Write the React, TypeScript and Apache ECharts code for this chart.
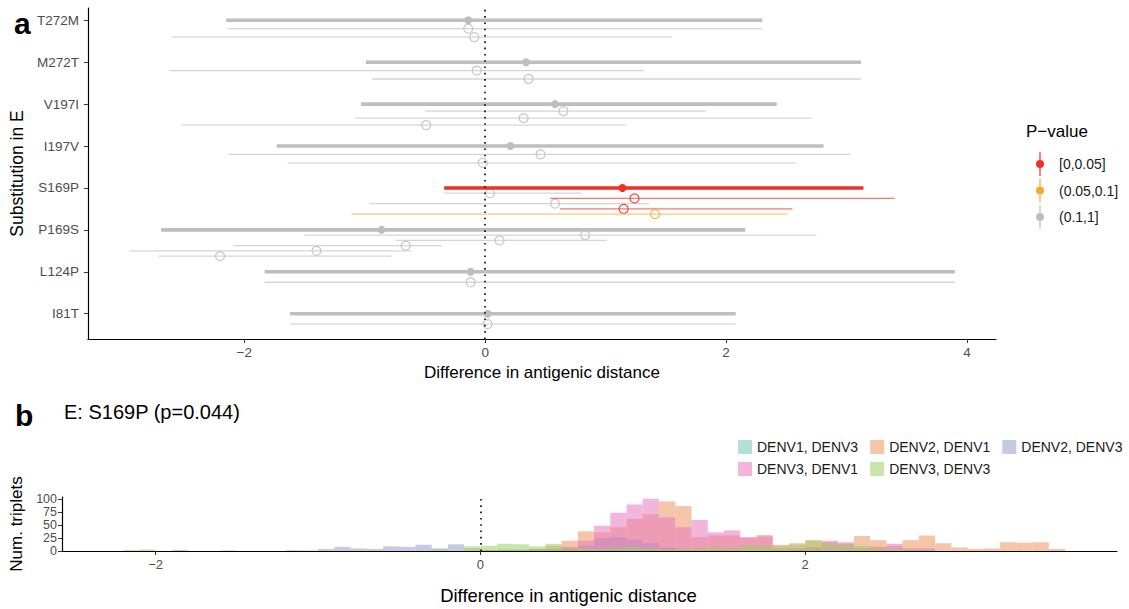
import React, { useEffect, useRef } from "react";
import * as echarts from "echarts";

const FONT = "'Liberation Sans', Arial, Helvetica, sans-serif";

// ---------- panel a ----------
const substitutions = ["T272M", "M272T", "V197I", "I197V", "S169P", "P169S", "L124P", "I81T"];
const pValueGroups = ["[0,0.05]", "(0.05,0.1]", "(0.1,1]"];
const pValueColors = ["#EE3124", "#F7A833", "#BEBEBE"];

// one entry per interval; the first entry of each substitution is its overall estimate
const rowSubstitution = [
  "T272M", "T272M", "T272M",
  "M272T", "M272T", "M272T",
  "V197I", "V197I", "V197I", "V197I",
  "I197V", "I197V", "I197V",
  "S169P", "S169P", "S169P", "S169P", "S169P", "S169P",
  "P169S", "P169S", "P169S", "P169S", "P169S", "P169S",
  "L124P", "L124P",
  "I81T", "I81T",
];
const rowIsOverall = [1, 0, 0, 1, 0, 0, 1, 0, 0, 0, 1, 0, 0, 1, 0, 0, 0, 0, 0, 1, 0, 0, 0, 0, 0, 1, 0, 1, 0];
const rowLower = [-2.15, -2.14, -2.6, -0.99, -2.62, -0.94, -1.03, -0.5, -1.08, -2.52, -1.73, -2.13, -1.64, -0.34, -0.34, 0.54, -0.96, 0.62, -1.11, -2.69, -1.5, -0.74, -2.09, -2.95, -2.71, -1.83, -1.83, -1.62, -1.62];
const rowEstimate = [-0.14, -0.14, -0.09, 0.34, -0.07, 0.36, 0.58, 0.65, 0.32, -0.49, 0.21, 0.46, -0.02, 1.14, 0.04, 1.24, 0.58, 1.15, 1.41, -0.86, 0.83, 0.12, -0.66, -1.4, -2.2, -0.12, -0.12, 0.02, 0.02];
const rowUpper = [2.3, 2.3, 1.55, 3.12, 1.32, 3.12, 2.42, 1.83, 2.71, 1.17, 2.81, 3.03, 2.58, 3.14, 0.8, 3.4, 1.36, 2.55, 2.51, 2.16, 2.75, 1.01, -0.36, -0.61, -0.78, 3.9, 3.9, 2.08, 2.08];
const rowPGroup = [2, 2, 2, 2, 2, 2, 2, 2, 2, 2, 2, 2, 2, 0, 2, 0, 2, 0, 1, 2, 2, 2, 2, 2, 2, 2, 2, 2, 2];
const topXTicks = [-2, 0, 2, 4];

// ---------- panel b ----------
const histGroups = ["DENV1, DENV3", "DENV2, DENV1", "DENV2, DENV3", "DENV3, DENV1", "DENV3, DENV3"];
const histColors = [
  "rgba(102,194,165,0.5)",
  "rgba(236,150,100,0.55)",
  "rgba(141,150,200,0.5)",
  "rgba(231,120,190,0.55)",
  "rgba(160,205,100,0.55)",
];
const binEdges = [
  -2.2, -2.1, -2.0, -1.9, -1.8, -1.7, -1.6, -1.5, -1.4, -1.3,
  -1.2, -1.1, -1.0, -0.9, -0.8, -0.7, -0.6, -0.5, -0.4, -0.3,
  -0.2, -0.1, 0.0, 0.1, 0.2, 0.3, 0.4, 0.5, 0.6, 0.7,
  0.8, 0.9, 1.0, 1.1, 1.2, 1.3, 1.4, 1.5, 1.6, 1.7,
  1.8, 1.9, 2.0, 2.1, 2.2, 2.3, 2.4, 2.5, 2.6, 2.7,
  2.8, 2.9, 3.0, 3.1, 3.2, 3.3, 3.4, 3.5, 3.6,
];
const countsDENV1DENV3 = [
  0, 0, 0, 0, 0, 0, 0, 0, 0, 0,
  0, 0, 0, 0, 0, 0, 0, 0, 0, 0,
  0, 0, 2, 3, 3, 4, 4, 2, 0, 0,
  0, 0, 0, 0, 0, 0, 0, 0, 0, 0,
  0, 3, 6, 0, 0, 0, 0, 0, 0, 0,
  0, 0, 0, 0, 0, 0, 0, 0,
];
const countsDENV2DENV1 = [
  0, 0, 0, 0, 0, 0, 0, 0, 0, 0,
  0, 0, 0, 0, 0, 0, 0, 0, 0, 0,
  0, 0, 0, 0, 0, 4, 10, 20, 38, 36,
  46, 62, 71, 96, 87, 27, 30, 30, 25, 31,
  12, 15, 21, 17, 14, 29, 21, 10, 21, 30,
  15, 7, 4, 5, 17, 16, 17, 4,
];
const countsDENV2DENV3 = [
  0, 0, 0, 2, 0, 0, 1, 0, 0, 0,
  0, 1, 4, 8, 5, 4, 9, 8, 12, 5,
  13, 5, 2, 2, 2, 3, 3, 5, 10, 25,
  27, 22, 15, 7, 2, 1, 2, 1, 0, 0,
  1, 0, 0, 0, 0, 0, 0, 0, 0, 0,
  0, 0, 0, 0, 0, 0, 0, 0,
];
const countsDENV3DENV1 = [
  0, 0, 0, 0, 0, 0, 0, 0, 0, 0,
  0, 0, 0, 0, 0, 0, 0, 0, 0, 0,
  0, 0, 0, 0, 0, 0, 3, 8, 20, 49,
  74, 90, 101, 65, 46, 60, 36, 40, 27, 28,
  5, 5, 8, 20, 17, 5, 8, 14, 5, 5,
  0, 0, 0, 0, 0, 0, 0, 0,
];
const countsDENV3DENV3 = [
  2, 3, 0, 0, 0, 0, 0, 0, 0, 0,
  2, 0, 0, 0, 0, 0, 0, 0, 0, 3,
  0, 9, 10, 14, 13, 9, 14, 6, 6, 5,
  7, 8, 5, 4, 4, 5, 8, 6, 12, 10,
  10, 12, 20, 15, 13, 10, 6, 4, 3, 2,
  0, 0, 0, 0, 0, 0, 0, 0,
];
const histCounts = [countsDENV1DENV3, countsDENV2DENV1, countsDENV2DENV3, countsDENV3DENV1, countsDENV3DENV3];
const bottomXTicks = [-2, 0, 2];
const bottomYTicks = [0, 25, 50, 75, 100];

const minusFmt = (v: number) => (v < 0 ? "\u2212" + Math.abs(v) : String(v));

const legendIcon =
  "path://M4.4,0H5.6V24H4.4Z M5,8a4,4 0 1 1 0,8a4,4 0 1 1 0,-8Z";

function buildOption() {
  const nCat = substitutions.length;
  const groupSize: Record<string, number> = {};
  rowSubstitution.forEach((s) => (groupSize[s] = (groupSize[s] || 0) + 1));
  const seen: Record<string, number> = {};
  const rows = rowSubstitution.map((s, i) => {
    const k = seen[s] || 0;
    seen[s] = k + 1;
    const catY = nCat - 1 - substitutions.indexOf(s);
    const y = catY - k / (groupSize[s] + 2);
    return { lo: rowLower[i], est: rowEstimate[i], hi: rowUpper[i], y, overall: rowIsOverall[i], g: rowPGroup[i] };
  });

  const zeroLine = {
    silent: true,
    symbol: "none",
    label: { show: false },
    lineStyle: { color: "#000", type: [1.6, 4.7], width: 1.6 },
    data: [{ xAxis: 0 }],
  };

  const topSeries = pValueGroups.map((name, gi) => {
    const color = pValueColors[gi];
    return {
      type: "custom",
      name,
      xAxisIndex: 0,
      yAxisIndex: 0,
      itemStyle: { color },
      dimensions: ["lo", "est", "hi", "y", "overall"],
      encode: { x: [0, 1, 2], y: 3 },
      data: rows.filter((r) => r.g === gi).map((r) => [r.lo, r.est, r.hi, r.y, r.overall]),
      renderItem: (params: any, api: any) => {
        const lo = api.value(0);
        const est = api.value(1);
        const hi = api.value(2);
        const y = api.value(3);
        const overall = api.value(4);
        const p1 = api.coord([lo, y]);
        const p2 = api.coord([hi, y]);
        const pc = api.coord([est, y]);
        const children: any[] = [
          {
            type: "line",
            shape: { x1: p1[0], y1: p1[1], x2: p2[0], y2: p2[1] },
            style: { stroke: color, lineWidth: overall ? 3.6 : 1.3, opacity: overall ? 1 : 0.65 },
          },
        ];
        if (overall) {
          children.push({ type: "circle", shape: { cx: pc[0], cy: pc[1], r: 4 }, style: { fill: color } });
        } else {
          children.push({
            type: "circle",
            shape: { cx: pc[0], cy: pc[1], r: 4.5 },
            style: { fill: "rgba(255,255,255,0)", stroke: color, lineWidth: 1.2, opacity: 0.85 },
          });
        }
        return { type: "group", children };
      },
      markLine: gi === 2 ? zeroLine : undefined,
      z: gi === 2 ? 2 : 3,
    };
  });

  const histSeries = histGroups.map((name, gi) => {
    const color = histColors[gi];
    const data: number[][] = [];
    histCounts[gi].forEach((c, i) => {
      if (c > 0) data.push([binEdges[i], binEdges[i + 1], c]);
    });
    return {
      type: "custom",
      name,
      xAxisIndex: 1,
      yAxisIndex: 1,
      itemStyle: { color },
      dimensions: ["x0", "x1", "count"],
      encode: { x: [0, 1], y: 2 },
      data,
      renderItem: (params: any, api: any) => {
        const a = api.coord([api.value(0), api.value(2)]);
        const b = api.coord([api.value(1), 0]);
        return {
          type: "rect",
          shape: { x: a[0], y: a[1], width: b[0] - a[0], height: b[1] - a[1] },
          style: { fill: color },
        };
      },
      markLine: gi === 0 ? zeroLine : undefined,
    };
  });

  const axisLine = { show: true, onZero: false, lineStyle: { color: "#000", width: 1.2 } };
  const tickStyle = { show: true, length: 4, lineStyle: { color: "#333", width: 1 } };
  const tickLabel = { color: "#4d4d4d", fontFamily: FONT };

  return {
    animation: false,
    backgroundColor: "#fff",
    textStyle: { fontFamily: FONT },
    title: [
      { text: "a", left: 9, top: 3, textStyle: { fontSize: 30, fontWeight: "bold", color: "#000", fontFamily: FONT } },
      { text: "b", left: 10, top: 395, textStyle: { fontSize: 30, fontWeight: "bold", color: "#000", fontFamily: FONT } },
      { text: "E: S169P (p=0.044)", left: 59, top: 397, textStyle: { fontSize: 20, fontWeight: "normal", color: "#000", fontFamily: FONT } },
      { text: "P\u2212value", left: 1021, top: 118, textStyle: { fontSize: 17, fontWeight: "normal", color: "#000", fontFamily: FONT } },
    ],
    legend: [
      {
        orient: "vertical",
        left: 1031,
        top: 147,
        itemWidth: 10,
        itemHeight: 24,
        itemGap: 2.5,
        selectedMode: false,
        textStyle: { fontSize: 14, color: "#1a1a1a", fontFamily: FONT, padding: [0, 0, 0, 9] },
        data: pValueGroups.map((n) => ({ name: n, icon: legendIcon })),
      },
      {
        orient: "horizontal",
        left: 733,
        top: 435,
        itemWidth: 14,
        itemHeight: 14,
        itemGap: 12,
        selectedMode: false,
        textStyle: { fontSize: 14, color: "#1a1a1a", fontFamily: FONT },
        data: histGroups.slice(0, 3).map((n) => ({ name: n, icon: "rect" })),
      },
      {
        orient: "horizontal",
        left: 733,
        top: 457,
        itemWidth: 14,
        itemHeight: 14,
        itemGap: 12,
        selectedMode: false,
        textStyle: { fontSize: 14, color: "#1a1a1a", fontFamily: FONT },
        data: histGroups.slice(3).map((n) => ({ name: n, icon: "rect" })),
      },
    ],
    grid: [
      { left: 82, right: 1129 - 996, top: 8, bottom: 609 - 339, containLabel: false },
      { left: 62, right: 1129 - 1117, top: 497, bottom: 609 - 551, containLabel: false },
    ],
    xAxis: [
      {
        type: "value",
        gridIndex: 0,
        min: (82 - 481.8) / 121.25,
        max: (996 - 481.8) / 121.25,
        axisLine,
        axisTick: { ...tickStyle, customValues: topXTicks },
        axisLabel: { ...tickLabel, fontSize: 13.5, margin: 6, customValues: topXTicks, formatter: minusFmt },
        splitLine: { show: false },
        name: "Difference in antigenic distance",
        nameLocation: "middle",
        nameGap: 24,
        nameTextStyle: { fontSize: 17, color: "#000", fontFamily: FONT },
      },
      {
        type: "value",
        gridIndex: 1,
        min: (62 - 480.4) / 162.4,
        max: (1117 - 480.4) / 162.4,
        axisLine,
        axisTick: { ...tickStyle, customValues: bottomXTicks },
        axisLabel: { ...tickLabel, fontSize: 13, margin: 7, customValues: bottomXTicks, formatter: minusFmt },
        splitLine: { show: false },
        name: "Difference in antigenic distance",
        nameLocation: "middle",
        nameGap: 35,
        nameTextStyle: { fontSize: 18.5, color: "#000", fontFamily: FONT, padding: [0, 42, 0, 0] },
      },
    ],
    yAxis: [
      {
        type: "value",
        gridIndex: 0,
        min: -(339 - 313.7) / 41.91,
        max: 7 + (20.3 - 8) / 41.91,
        axisLine,
        axisTick: { ...tickStyle, customValues: [0, 1, 2, 3, 4, 5, 6, 7] },
        axisLabel: {
          ...tickLabel,
          fontSize: 13.5,
          margin: 9,
          customValues: [0, 1, 2, 3, 4, 5, 6, 7],
          formatter: (v: number) => substitutions[nCat - 1 - Math.round(v)],
        },
        splitLine: { show: false },
        name: "Substitution in E",
        nameLocation: "middle",
        nameGap: 56,
        nameRotate: 90,
        nameTextStyle: { fontSize: 17.5, color: "#000", fontFamily: FONT },
      },
      {
        type: "value",
        gridIndex: 1,
        min: 0,
        max: 54 / 0.5167,
        axisLine,
        axisTick: { ...tickStyle, customValues: bottomYTicks },
        axisLabel: { ...tickLabel, fontSize: 12.5, margin: 5, customValues: bottomYTicks },
        splitLine: { show: false },
        name: "Num. triplets",
        nameLocation: "middle",
        nameGap: 35,
        nameRotate: 90,
        nameTextStyle: { fontSize: 17, color: "#000", fontFamily: FONT },
      },
    ],
    series: [...topSeries, ...histSeries],
  };
}

export default function App() {
  const ref = useRef<HTMLDivElement>(null);
  useEffect(() => {
    if (!ref.current) return;
    const chart = echarts.init(ref.current, undefined, { renderer: "svg" });
    chart.setOption(buildOption() as any);
    return () => chart.dispose();
  }, []);
  return (
    <div
      ref={ref}
      style={{ position: "absolute", left: 0, top: 0, width: 1129, height: 609, background: "#fff" }}
    />
  );
}
